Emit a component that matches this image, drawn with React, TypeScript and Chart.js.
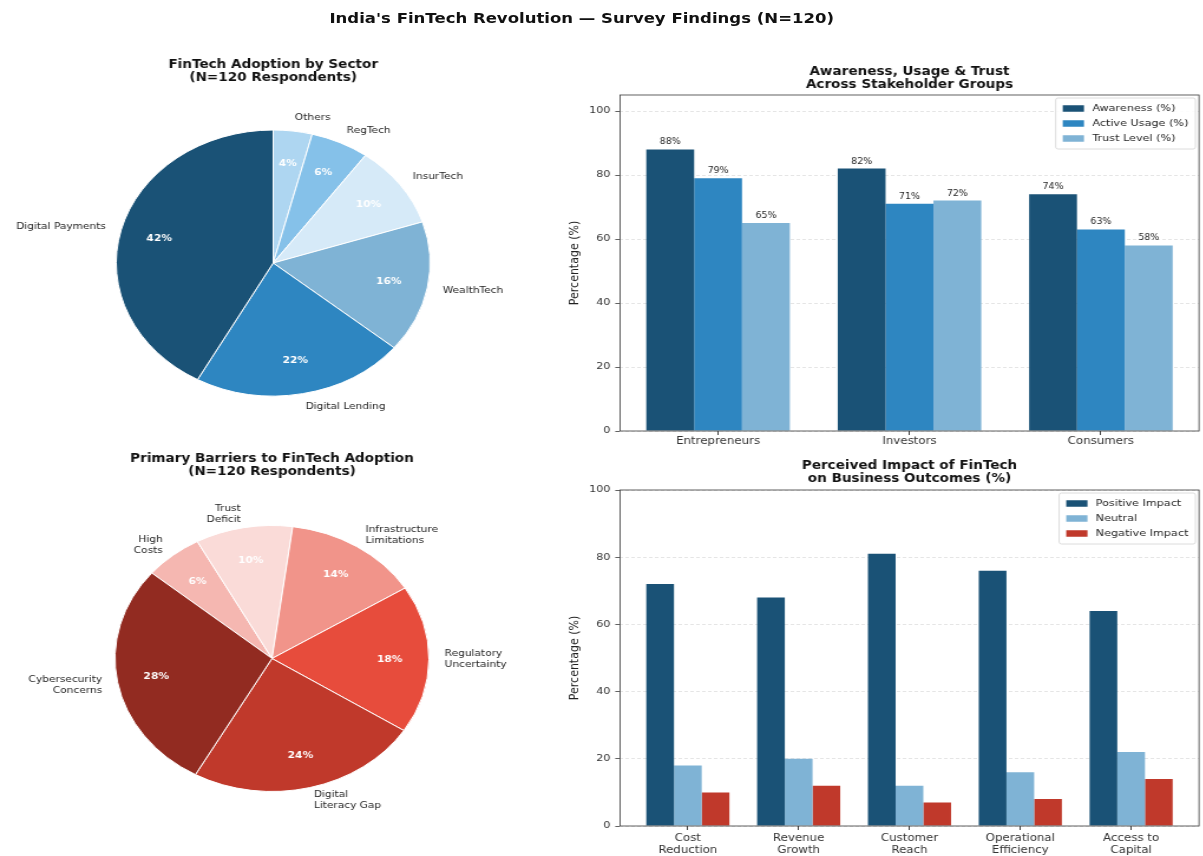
import React, { useEffect, useRef } from 'react';
import { Chart, registerables } from 'chart.js';

Chart.register(...registerables);

const FONT = "'DejaVu Sans', sans-serif";
Chart.defaults.font.family = FONT;

// The figure is laid out on a narrower virtual sheet and widened horizontally.
const STRETCH = 1.18;
const PAGE_W = 1203;
const PAGE_H = 856;
const VIEW_W = PAGE_W / STRETCH;

// ---- data ----
const sectorLabels = ['Digital Payments', 'Digital Lending', 'WealthTech', 'InsurTech', 'RegTech', 'Others'];
const sectorShares = [42, 22, 16, 10, 6, 4];
const sectorColors = ['#1a5276', '#2e86c1', '#7fb3d5', '#d6eaf8', '#85c1e9', '#aed6f1'];

const barrierLabels = [
  'Cybersecurity\nConcerns',
  'Digital\nLiteracy Gap',
  'Regulatory\nUncertainty',
  'Infrastructure\nLimitations',
  'Trust\nDeficit',
  'High\nCosts',
];
const barrierShares = [28, 24, 18, 14, 10, 6];
const barrierColors = ['#922b21', '#c0392b', '#e74c3c', '#f1948a', '#fadbd8', '#f5b7b1'];

const stakeholderGroups = ['Entrepreneurs', 'Investors', 'Consumers'];
const awareness = [88, 82, 74];
const activeUsage = [79, 71, 63];
const trustLevel = [65, 72, 58];
const stakeholderColors = ['#1a5276', '#2e86c1', '#7fb3d5'];

const outcomes = ['Cost\nReduction', 'Revenue\nGrowth', 'Customer\nReach', 'Operational\nEfficiency', 'Access to\nCapital'];
const positiveImpact = [72, 68, 81, 76, 64];
const neutralImpact = [18, 20, 12, 16, 22];
const negativeImpact = [10, 12, 7, 8, 14];
const impactColors = ['#1a5276', '#7fb3d5', '#c0392b'];

const percentTicks = [0, 20, 40, 60, 80, 100];

const TEXT = '#262626';
const AXIS = '#3a3a3a';

// ---- plugins ----
const pieLabels = {
  id: 'pieLabels',
  afterDatasetsDraw(chart: any) {
    const ctx = chart.ctx;
    const meta = chart.getDatasetMeta(0);
    const values = chart.data.datasets[0].data as number[];
    const total = values.reduce((a, b) => a + b, 0);
    meta.data.forEach((arc: any, i: number) => {
      const { x, y, startAngle, endAngle, outerRadius } = arc.getProps(
        ['x', 'y', 'startAngle', 'endAngle', 'outerRadius'],
        true
      );
      const mid = (startAngle + endAngle) / 2;
      const cos = Math.cos(mid);
      const sin = Math.sin(mid);
      ctx.save();
      ctx.textBaseline = 'middle';
      ctx.font = `bold 9px ${FONT}`;
      ctx.fillStyle = '#ffffff';
      ctx.textAlign = 'center';
      ctx.fillText(`${Math.round((values[i] / total) * 100)}%`, x + cos * outerRadius * 0.75, y + sin * outerRadius * 0.75);

      ctx.font = `9px ${FONT}`;
      ctx.fillStyle = TEXT;
      ctx.textAlign = cos >= 0 ? 'left' : 'right';
      const lx = x + cos * outerRadius * 1.1;
      const ly = y + sin * outerRadius * 1.1;
      const lines = String(chart.data.labels[i]).split('\n');
      const lh = 11;
      lines.forEach((t: string, j: number) => {
        ctx.fillText(t, lx, ly + (j - (lines.length - 1) / 2) * lh);
      });
      ctx.restore();
    });
  },
};

const frame = {
  id: 'frame',
  afterDatasetsDraw(chart: any) {
    const { ctx, chartArea: a } = chart;
    ctx.save();
    ctx.strokeStyle = AXIS;
    ctx.lineWidth = 0.8;
    ctx.strokeRect(a.left, a.top, a.right - a.left, a.bottom - a.top);
    ctx.restore();
  },
};

const valueLabels = {
  id: 'valueLabels',
  afterDatasetsDraw(chart: any) {
    const ctx = chart.ctx;
    ctx.save();
    ctx.font = `8px ${FONT}`;
    ctx.fillStyle = TEXT;
    ctx.textAlign = 'center';
    ctx.textBaseline = 'bottom';
    chart.data.datasets.forEach((ds: any, k: number) => {
      const meta = chart.getDatasetMeta(k);
      meta.data.forEach((bar: any, i: number) => {
        const { x, y } = bar.getProps(['x', 'y'], true);
        ctx.fillText(`${ds.data[i].y}%`, x, y - 3);
      });
    });
    ctx.restore();
  },
};

const insideLegend = {
  id: 'insideLegend',
  afterDraw(chart: any) {
    const { ctx, chartArea: a } = chart;
    const ds = chart.data.datasets;
    ctx.save();
    ctx.font = `9.5px ${FONT}`;
    const textW = Math.max(...ds.map((d: any) => ctx.measureText(d.label).width));
    const pad = 6;
    const sw = 18;
    const sh = 6.5;
    const gap = 7;
    const pitch = 15;
    const w = pad + sw + gap + textW + pad;
    const h = 10.5 * 2 + (ds.length - 1) * pitch;
    const right = a.right - 3;
    const top = a.top + 3;
    const left = right - w;
    ctx.beginPath();
    ctx.roundRect(left, top, w, h, 2);
    ctx.fillStyle = 'rgba(255,255,255,0.85)';
    ctx.fill();
    ctx.strokeStyle = '#d3d3d3';
    ctx.lineWidth = 0.8;
    ctx.stroke();
    ds.forEach((d: any, i: number) => {
      const cy = top + 10.5 + i * pitch;
      ctx.fillStyle = d.backgroundColor;
      ctx.fillRect(left + pad, cy - sh / 2, sw, sh);
      ctx.fillStyle = TEXT;
      ctx.textAlign = 'left';
      ctx.textBaseline = 'middle';
      ctx.fillText(d.label, left + pad + sw + gap, cy);
    });
    ctx.restore();
  },
};

// ---- configs ----
const titleFont = { size: 11.5, weight: 'bold' as const, lineHeight: '13px' };

function pieConfig(
  labels: string[],
  values: number[],
  colors: string[],
  rotation: number,
  title: string[],
  titlePad: { top: number; bottom: number },
  padding: { left: number; right: number; top: number; bottom: number }
): any {
  // drawn clockwise, so the slices are fed in reverse to run counter-clockwise
  return {
    type: 'pie',
    data: {
      labels: [...labels].reverse(),
      datasets: [
        {
          data: [...values].reverse(),
          backgroundColor: [...colors].reverse(),
          borderColor: '#ffffff',
          borderWidth: 1,
        },
      ],
    },
    options: {
      animation: false,
      responsive: true,
      maintainAspectRatio: false,
      events: [],
      rotation,
      layout: { padding },
      plugins: {
        legend: { display: false },
        tooltip: { enabled: false },
        title: {
          display: true,
          text: title,
          fullSize: false,
          font: titleFont,
          color: '#111',
          padding: titlePad,
        },
      },
    },
    plugins: [pieLabels],
  };
}

function barConfig(
  groups: string[],
  series: { label: string; values: number[] }[],
  colors: string[],
  yMax: number,
  title: string[],
  titlePad: { top: number; bottom: number },
  xAxisHeight: number,
  xTickPad: number,
  withValues: boolean
): any {
  const n = groups.length;
  const groupWidth = 0.75;
  const margin = 0.05 * (n - 1 + groupWidth);
  const half = groupWidth / 2 + margin;
  return {
    type: 'bar',
    data: {
      datasets: series.map((s, k) => ({
        label: s.label,
        data: s.values.map((v, i) => ({ x: i, y: v })),
        backgroundColor: colors[k],
        borderWidth: 0,
        categoryPercentage: groupWidth,
        barPercentage: 1,
      })),
    },
    options: {
      animation: false,
      responsive: true,
      maintainAspectRatio: false,
      events: [],
      layout: { padding: { left: 0, right: 2.9, top: 0, bottom: 0 } },
      scales: {
        x: {
          type: 'linear',
          min: -half,
          max: n - 1 + half,
          offset: false,
          afterBuildTicks: (s: any) => {
            s.ticks = groups.map((_, i) => ({ value: i }));
          },
          afterFit: (s: any) => {
            s.height = xAxisHeight;
          },
          ticks: {
            autoSkip: false,
            maxRotation: 0,
            padding: xTickPad,
            color: '#333',
            font: { size: 10, lineHeight: '12px' },
            callback: (v: number) => (groups[v] !== undefined ? groups[v].split('\n') : ''),
          },
          grid: {
            display: true,
            offset: false,
            drawOnChartArea: false,
            drawTicks: true,
            tickLength: 4,
            tickColor: AXIS,
          },
          border: { display: false },
        },
        y: {
          min: 0,
          max: yMax,
          afterBuildTicks: (s: any) => {
            s.ticks = percentTicks.map((v) => ({ value: v }));
          },
          afterFit: (s: any) => {
            s.width = 55.4;
          },
          ticks: { color: '#333', padding: 4, font: { size: 9.5 } },
          grid: {
            color: 'rgba(0,0,0,0.13)',
            lineWidth: 0.8,
            drawTicks: true,
            tickLength: 4,
            tickColor: AXIS,
            tickBorderDash: [],
          },
          border: { display: false, dash: [3, 2] },
          title: {
            display: true,
            text: 'Percentage (%)',
            color: '#222',
            font: { size: 11 },
            padding: { top: 10.7, bottom: 0 },
          },
        },
      },
      plugins: {
        legend: { display: false },
        tooltip: { enabled: false },
        title: {
          display: true,
          text: title,
          fullSize: false,
          font: titleFont,
          color: '#111',
          padding: titlePad,
        },
      },
    },
    plugins: withValues ? [frame, valueLabels, insideLegend] : [frame, insideLegend],
  };
}

function Panel({ make, left, top, width, height }: { make: () => any; left: number; top: number; width: number; height: number }) {
  const ref = useRef<HTMLCanvasElement | null>(null);
  useEffect(() => {
    const chart = new Chart(ref.current as HTMLCanvasElement, make());
    return () => chart.destroy();
  }, []);
  return (
    <div style={{ position: 'absolute', left, top, width, height }}>
      <canvas ref={ref} />
    </div>
  );
}

export default function App() {
  return (
    <div
      style={{
        position: 'absolute',
        left: 0,
        top: 0,
        width: PAGE_W,
        height: PAGE_H,
        overflow: 'hidden',
        background: '#ffffff',
      }}
    >
      <div
        style={{
          position: 'absolute',
          left: 0,
          top: 0,
          width: VIEW_W,
          height: PAGE_H,
          transform: `scaleX(${STRETCH})`,
          transformOrigin: '0 0',
        }}
      >
        <div
          style={{
            position: 'absolute',
            left: 0,
            top: 8,
            width: 986,
            textAlign: 'center',
            fontFamily: FONT,
            fontWeight: 'bold',
            fontSize: 14,
            lineHeight: '20px',
            color: '#111',
          }}
        >
          India's FinTech Revolution — Survey Findings (N=120)
        </div>

        <Panel
          left={0}
          top={40}
          width={470}
          height={405}
          make={() =>
            pieConfig(
              sectorLabels,
              sectorShares,
              sectorColors,
              0,
              ['FinTech Adoption by Sector', '(N=120 Respondents)'],
              { top: 18.5, bottom: 45 },
              { left: 98, right: 105, top: 0, bottom: 48.5 }
            )
          }
        />

        <Panel
          left={0}
          top={445}
          width={470}
          height={411}
          make={() =>
            pieConfig(
              barrierLabels,
              barrierShares,
              barrierColors,
              -50,
              ['Primary Barriers to FinTech Adoption', '(N=120 Respondents)'],
              { top: 7.5, bottom: 46.5 },
              { left: 97, right: 106, top: 0, bottom: 64 }
            )
          }
        />

        <Panel
          left={470}
          top={55}
          width={549}
          height={405}
          make={() =>
            barConfig(
              stakeholderGroups,
              [
                { label: 'Awareness (%)', values: awareness },
                { label: 'Active Usage (%)', values: activeUsage },
                { label: 'Trust Level (%)', values: trustLevel },
              ],
              stakeholderColors,
              105,
              ['Awareness, Usage & Trust', 'Across Stakeholder Groups'],
              { top: 10.5, bottom: 3.5 },
              29,
              0,
              true
            )
          }
        />

        <Panel
          left={470}
          top={455}
          width={549}
          height={401}
          make={() =>
            barConfig(
              outcomes,
              [
                { label: 'Positive Impact', values: positiveImpact },
                { label: 'Neutral', values: neutralImpact },
                { label: 'Negative Impact', values: negativeImpact },
              ],
              impactColors,
              100,
              ['Perceived Impact of FinTech', 'on Business Outcomes (%)'],
              { top: 4.5, bottom: 4.5 },
              30,
              2,
              false
            )
          }
        />
      </div>
    </div>
  );
}
